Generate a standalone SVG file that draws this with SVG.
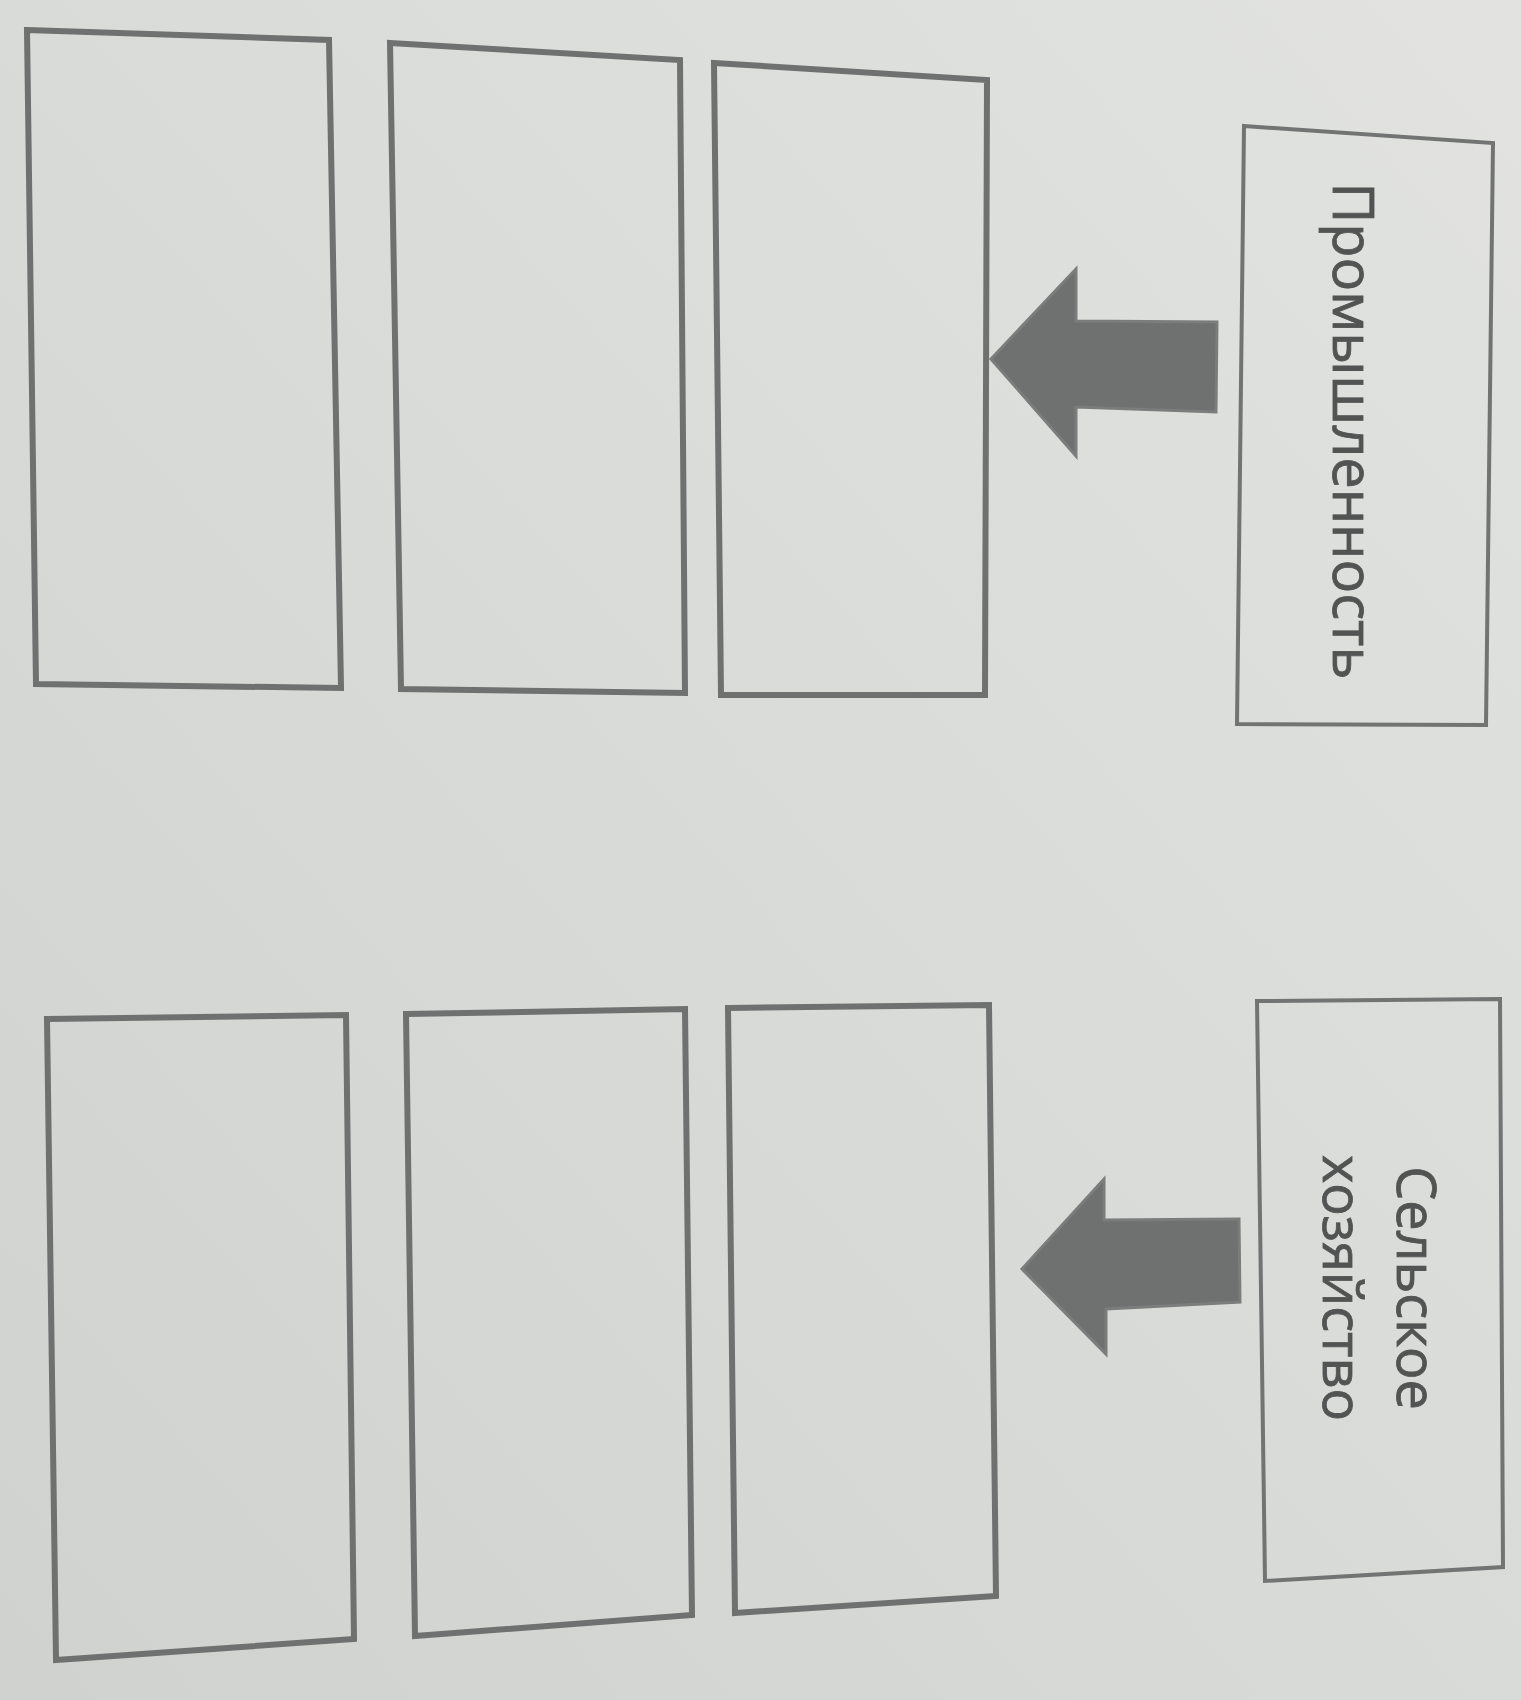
<svg xmlns="http://www.w3.org/2000/svg" width="1521" height="1700" viewBox="0 0 1521 1700">
<defs>
<linearGradient id="bg" x1="0" y1="1" x2="1" y2="0">
<stop offset="0" stop-color="#cfd2cf"/>
<stop offset="0.5" stop-color="#d8dbd8"/>
<stop offset="1" stop-color="#e2e3e1"/>
</linearGradient>
<style>
.box{fill:none;stroke:#6f7070;stroke-width:6;stroke-linejoin:miter}
.big{fill:none;stroke:#727373;stroke-width:4}
.arr{fill:#6f7070;stroke:#7b7c7c;stroke-width:3}
.lbl{font-family:"Open Sans","Noto Sans",sans-serif;fill:#525353;stroke:#525353;stroke-width:0.8;text-anchor:middle}
</style>
</defs>
<rect x="0" y="0" width="1521" height="1700" fill="url(#bg)"/>
<g id="box-top-1"><polygon class="box" points="27,30 329,40 341,688 36,684"/></g>
<g id="box-top-2"><polygon class="box" points="390,43 680,60 685,693 401,689"/></g>
<g id="box-top-3"><polygon class="box" points="714,63 987,80 985,695 721,695"/></g>
<g id="node-industry"><polygon class="big" points="1244,126 1493,143 1486,725 1237,724"/>
<text class="lbl" font-size="56" transform="translate(1333,431) rotate(90)">Промышленность</text></g>
<g id="box-bottom-1"><polygon class="box" points="47,1019 346,1015 354,1639 56,1660"/></g>
<g id="box-bottom-2"><polygon class="box" points="406,1014 685,1009 692,1615 415,1636"/></g>
<g id="box-bottom-3"><polygon class="box" points="728,1008 989,1005 996,1596 735,1613"/></g>
<g id="node-agriculture"><polygon class="big" points="1257,1001 1500,999 1503,1567 1265,1581"/>
<text class="lbl" font-size="54" transform="translate(1287,1288) rotate(90)"><tspan x="0" y="-110">Сельское</tspan><tspan x="0" y="-36">хозяйство</tspan></text></g>
<g id="connectors">
<polygon class="arr" points="991,359 1076,269 1076,321 1217,322 1216,412 1076,407 1076,456"/>
<polygon class="arr" points="1022,1269 1104,1179 1104,1220 1239,1219 1240,1302 1106,1309 1106,1354"/>
</g>
</svg>
